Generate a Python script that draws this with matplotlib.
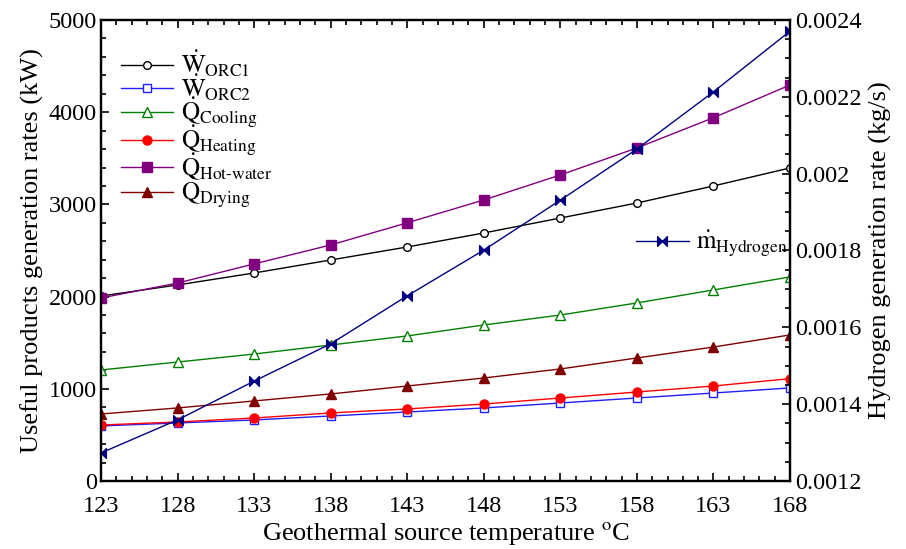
import numpy as np
import matplotlib
matplotlib.use("Agg")
import matplotlib.pyplot as plt
from matplotlib.path import Path
from matplotlib.ticker import MultipleLocator, FixedLocator

plt.rcParams.update({
    "font.family": "Liberation Serif",
    "mathtext.fontset": "stix",
    "xtick.direction": "in",
    "ytick.direction": "in",
    "axes.linewidth": 1.6,
})

# data
temps = [123, 128, 133, 138, 143, 148, 153, 158, 163, 168]
w_orc1 = [2006, 2126, 2256, 2397, 2538, 2690, 2852, 3015, 3200, 3395]
w_orc2 = [597, 629, 662, 705, 748, 792, 846, 900, 954, 1009]
q_cooling = [1204, 1290, 1377, 1475, 1573, 1692, 1800, 1931, 2072, 2213]
q_heating = [607, 640, 683, 738, 781, 835, 900, 965, 1030, 1110]
q_hotwater = [1985, 2147, 2354, 2560, 2800, 3048, 3319, 3612, 3940, 4295]
q_drying = [727, 792, 868, 944, 1030, 1117, 1215, 1334, 1453, 1584]
m_hydrogen = [0.001273, 0.001359, 0.00146, 0.001557, 0.001682,
              0.001801, 0.001931, 0.002064, 0.002213, 0.002371]

left_ticks = [0, 1000, 2000, 3000, 4000, 5000]
right_ticks = [0.0012, 0.0014, 0.0016, 0.0018, 0.002, 0.0022, 0.0024]
right_labels = ["0.0012", "0.0014", "0.0016", "0.0018", "0.002", "0.0022", "0.0024"]

# bowtie marker
bowtie = Path([(-1, -1), (1, 1), (1, -1), (-1, 1), (-1, -1)],
              [Path.MOVETO, Path.LINETO, Path.LINETO, Path.LINETO, Path.CLOSEPOLY])

fig = plt.figure(figsize=(9.06, 5.49), dpi=100)
ax = fig.add_axes([0.1115, 0.1239, 0.7605, 0.8397])

lw = 1.0
ax.plot(temps, w_orc1, color="black", lw=lw, marker="o", ms=5.5, mfc="white",
        label=r"$\dot{\mathrm{W}}_{\mathrm{ORC1}}$")
ax.plot(temps, w_orc2, color="#1f1fff", lw=lw, marker="s", ms=6, mfc="white",
        label=r"$\dot{\mathrm{W}}_{\mathrm{ORC2}}$")
ax.plot(temps, q_cooling, color="#008000", lw=lw, marker="^", ms=7, mfc="white",
        label=r"$\dot{\mathrm{Q}}_{\mathrm{Cooling}}$")
ax.plot(temps, q_heating, color="#ff0000", lw=lw, marker="o", ms=6.5,
        label=r"$\dot{\mathrm{Q}}_{\mathrm{Heating}}$")
ax.plot(temps, q_hotwater, color="#800080", lw=lw, marker="s", ms=6.5,
        label=r"$\dot{\mathrm{Q}}_{\mathrm{Hot\text{-}water}}$")
ax.plot(temps, q_drying, color="#800000", lw=lw, marker="^", ms=7.5,
        label=r"$\dot{\mathrm{Q}}_{\mathrm{Drying}}$")

ax.set_xlim(123, 168)
ax.set_ylim(0, 5000)
ax.xaxis.set_major_locator(FixedLocator(temps))
ax.xaxis.set_minor_locator(MultipleLocator(1))
ax.yaxis.set_major_locator(FixedLocator(left_ticks))
ax.yaxis.set_minor_locator(MultipleLocator(200))
ax.tick_params(which="both", top=True, labelsize=17.5, width=1.2)
ax.tick_params(which="major", length=6)
ax.tick_params(which="minor", length=3.5)
ax.tick_params(axis="x", pad=11)
ax.tick_params(axis="y", pad=3)
ax.set_xlabel(r"Geothermal source temperature $^{\mathrm{o}}$C", fontsize=19, labelpad=2)
ax.set_ylabel("Useful products generation rates (kW)", fontsize=19, labelpad=3)

ax2 = ax.twinx()
ax2.plot(temps, m_hydrogen, color="#000080", lw=lw, marker=bowtie, ms=7,
         label=r"$\dot{\mathrm{m}}_{\mathrm{Hydrogen}}$")
ax2.set_ylim(0.0012, 0.0024)
ax2.yaxis.set_major_locator(FixedLocator(right_ticks))
ax2.set_yticklabels(right_labels)
ax2.yaxis.set_minor_locator(MultipleLocator(0.00005))
ax2.tick_params(which="both", labelsize=17.5, width=1.2)
ax2.tick_params(which="major", length=6)
ax2.tick_params(which="minor", length=3.5)
ax2.tick_params(axis="y", pad=4)
ax2.set_ylabel("Hydrogen generation rate (kg/s)", fontsize=19, labelpad=5)

ax.legend(loc="upper left", bbox_to_anchor=(-0.004, 0.987), frameon=False,
          fontsize=18, handlelength=2.1, handletextpad=0.3, labelspacing=-0.26,
          borderaxespad=0.5)
ax2.legend(loc="center left", bbox_to_anchor=(0.744, 0.514), frameon=False,
           fontsize=18, handlelength=2.1, handletextpad=0.3)

fig.savefig("out.png", dpi=100)
